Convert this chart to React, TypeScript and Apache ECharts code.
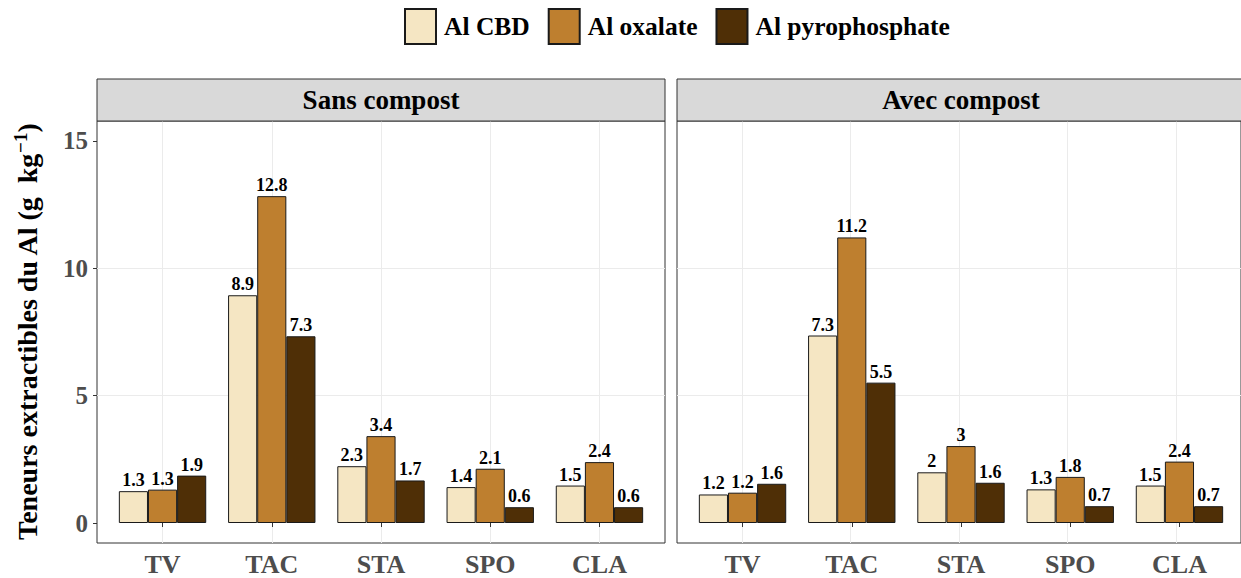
import React, { useEffect, useRef } from "react";
import * as echarts from "echarts";

const categories = ["TV", "TAC", "STA", "SPO", "CLA"];
const seriesNames = ["Al CBD", "Al oxalate", "Al pyrophosphate"];
const panelTitles = ["Sans compost", "Avec compost"];

// bar heights
const sansCBD = [1.25, 8.94, 2.23, 1.41, 1.47];
const sansOx = [1.31, 12.83, 3.41, 2.13, 2.39];
const sansPyro = [1.86, 7.33, 1.67, 0.62, 0.62];
const avecCBD = [1.12, 7.36, 1.99, 1.32, 1.47];
const avecOx = [1.19, 11.21, 3.02, 1.81, 2.41];
const avecPyro = [1.54, 5.51, 1.58, 0.66, 0.66];

// printed labels
const sansCBDLabels = ["1.3", "8.9", "2.3", "1.4", "1.5"];
const sansOxLabels = ["1.3", "12.8", "3.4", "2.1", "2.4"];
const sansPyroLabels = ["1.9", "7.3", "1.7", "0.6", "0.6"];
const avecCBDLabels = ["1.2", "7.3", "2", "1.3", "1.5"];
const avecOxLabels = ["1.2", "11.2", "3", "1.8", "2.4"];
const avecPyroLabels = ["1.6", "5.5", "1.6", "0.7", "0.7"];

const yTicks = [0, 5, 10, 15];
const yMin = -0.785;
const yMax = 15.78;

const colors = ["#F5E6C3", "#BE7F2F", "#4F2F06"];
const FONT = "'Liberation Serif', 'Times New Roman', serif";

const panels = [
  { left: 97, values: [sansCBD, sansOx, sansPyro], labels: [sansCBDLabels, sansOxLabels, sansPyroLabels] },
  { left: 677, values: [avecCBD, avecOx, avecPyro], labels: [avecCBDLabels, avecOxLabels, avecPyroLabels] },
];

const PANEL_W = 568;
const TOP = 121;
const HEIGHT = 422;
const UNIT = PANEL_W / 5.2;

export default function App() {
  const ref = useRef<HTMLDivElement>(null);

  useEffect(() => {
    if (!ref.current) return;
    const chart = echarts.init(ref.current, null, { renderer: "svg" });

    const grids: any[] = [];
    const xAxes: any[] = [];
    const yAxes: any[] = [];
    const series: any[] = [];
    const graphics: any[] = [];

    panels.forEach((p, pi) => {
      const fullIdx = grids.length;
      grids.push({
        left: p.left,
        top: TOP,
        width: PANEL_W,
        height: HEIGHT,
        show: true,
        borderColor: "#333333",
        borderWidth: 1,
        backgroundColor: "transparent",
        containLabel: false,
      });
      const innerIdx = grids.length;
      grids.push({
        left: p.left + UNIT * 0.1,
        top: TOP,
        width: UNIT * 5,
        height: HEIGHT,
        containLabel: false,
      });

      xAxes.push({
        type: "value",
        gridIndex: fullIdx,
        min: 0.4,
        max: 5.6,
        splitNumber: 5,
        axisLine: { show: false },
        axisTick: { show: false },
        axisLabel: { show: false },
        splitLine: {
          show: true,
          showMinLine: false,
          showMaxLine: false,
          lineStyle: { color: "#EBEBEB", width: 1 },
        },
      });
      yAxes.push({
        type: "value",
        gridIndex: fullIdx,
        min: yMin,
        max: yMax,
        splitNumber: 3,
        axisLine: { show: false },
        axisTick: {
          show: pi === 0,
          customValues: yTicks,
          length: 4,
          lineStyle: { color: "#333333", width: 1 },
        },
        axisLabel: {
          show: pi === 0,
          customValues: yTicks,
          margin: 9,
          fontSize: 25,
          fontWeight: "bold",
          color: "#4D4D4D",
          fontFamily: FONT,
        },
        splitLine: {
          show: true,
          showMinLine: false,
          showMaxLine: false,
          lineStyle: { color: "#EBEBEB", width: 1 },
        },
        ...(pi === 0
          ? {
              name: "Teneurs extractibles du Al (g  kg{sup|\u22121})",
              nameLocation: "middle",
              nameGap: 53,
              nameTextStyle: {
                fontSize: 28,
                fontWeight: "bold",
                color: "#000000",
                fontFamily: FONT,
                rich: {
                  sup: {
                    fontSize: 19,
                    fontWeight: "bold",
                    color: "#000000",
                    fontFamily: FONT,
                    padding: [0, 0, 14, 0],
                  },
                },
              },
            }
          : {}),
      });

      xAxes.push({
        type: "category",
        gridIndex: innerIdx,
        data: categories,
        axisLine: { show: false },
        axisTick: {
          show: true,
          alignWithLabel: true,
          length: 4,
          lineStyle: { color: "#333333", width: 1 },
        },
        axisLabel: {
          margin: 8,
          fontSize: 26,
          fontWeight: "bold",
          color: "#4D4D4D",
          fontFamily: FONT,
        },
        splitLine: { show: false },
      });
      yAxes.push({
        type: "value",
        gridIndex: innerIdx,
        min: yMin,
        max: yMax,
        splitNumber: 3,
        show: false,
        splitLine: { show: false },
      });

      const xAxisIndex = xAxes.length - 1;
      const yAxisIndex = yAxes.length - 1;

      seriesNames.forEach((name, si) => {
        const labs = p.labels[si];
        series.push({
          type: "bar",
          name,
          xAxisIndex,
          yAxisIndex,
          data: p.values[si],
          barGap: "0%",
          barCategoryGap: "20%",
          itemStyle: { color: colors[si], borderColor: "#1A1A1A", borderWidth: 1 },
          label: {
            show: true,
            position: "top",
            distance: 2,
            formatter: (params: any) => labs[params.dataIndex],
            fontSize: 18,
            fontWeight: "bold",
            color: "#000000",
            fontFamily: FONT,
          },
          emphasis: { disabled: true },
        });
      });

      graphics.push({
        type: "rect",
        shape: { x: p.left, y: 79, width: PANEL_W, height: 42 },
        style: { fill: "#D9D9D9", stroke: "#333333", lineWidth: 1 },
        z: 10,
      });
      graphics.push({
        type: "text",
        x: p.left + PANEL_W / 2,
        y: 100,
        style: {
          text: panelTitles[pi],
          fontSize: 27,
          fontWeight: "bold",
          fill: "#000000",
          fontFamily: FONT,
          align: "center",
          verticalAlign: "middle",
        },
        z: 11,
      });
    });

    chart.setOption({
      animation: false,
      backgroundColor: "#FFFFFF",
      textStyle: { fontFamily: FONT },
      legend: {
        data: seriesNames,
        top: 3,
        left: 399,
        itemWidth: 31,
        itemHeight: 35,
        itemGap: 18,
        icon: "rect",
        selectedMode: false,
        textStyle: {
          fontSize: 25.5,
          fontWeight: "bold",
          color: "#000000",
          fontFamily: FONT,
          padding: [0, 0, 0, 3],
        },
      },
      grid: grids,
      xAxis: xAxes,
      yAxis: yAxes,
      series,
      graphic: graphics,
    });

    return () => chart.dispose();
  }, []);

  return (
    <div
      ref={ref}
      style={{ position: "absolute", left: 0, top: 0, width: 1241, height: 578 }}
    />
  );
}
